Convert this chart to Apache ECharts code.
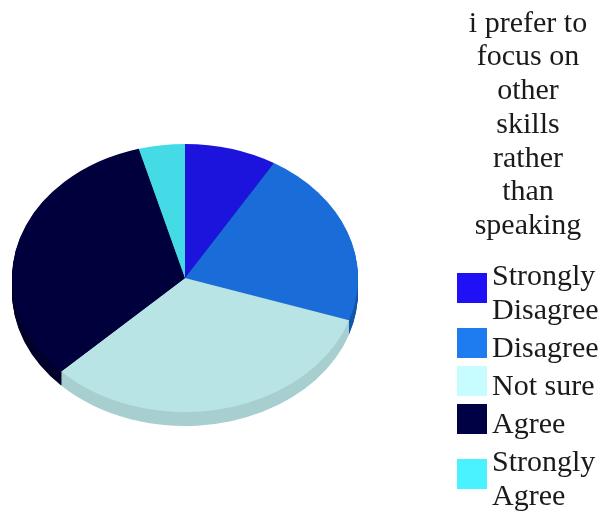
<!DOCTYPE html>
<html>
<head>
<meta charset="utf-8">
<style>html,body{margin:0;padding:0;background:#fff}#chart{width:603px;height:512px}</style>
<script src="https://cdn.jsdelivr.net/npm/echarts@6/dist/echarts.min.js"></script>
</head>
<body>
<div id="chart"></div>
<script>
// Survey responses, in percent of respondents
const titleLines = ['i prefer to', 'focus on', 'other', 'skills', 'rather', 'than', 'speaking'];
const categories = ['Strongly\nDisagree', 'Disagree', 'Not sure', 'Agree', 'Strongly\nAgree'];
const values = [8.6, 21.5, 32.6, 33.0, 4.3];
const legendColors = ['#2010f5', '#1f7cf0', '#c8fdff', '#000044', '#48f2ff'];
const faceColors = ['#1c14dc', '#1a6dd8', '#b8e4e5', '#00003c', '#45dbe6'];
const sideColors = ['#1410a8', '#1455a8', '#a8cfd0', '#00002c', '#35a8b0'];
// Front-facing rims paint last so each one ends on a clean vertical seam
const sideOrder = [1, 3, 4, 2, 0];

const total = values.reduce((a, b) => a + b, 0);
const starts = [];
values.reduce((acc, v, i) => { starts[i] = acc; return acc + v; }, 0);

// Tilted pie: each slice is a circular sector squashed vertically, over a stack of darker copies as its rim
const pie = { cx: 185, cy: 278, r: 173, squash: 0.775, depth: 14 };

function renderSlice(index) {
  return function (params, api) {
    const toAngle = p => -Math.PI / 2 + (p / total) * Math.PI * 2;
    const shape = {
      cx: 0, cy: 0, r: pie.r,
      startAngle: toAngle(starts[index]),
      endAngle: toAngle(starts[index] + api.value(0)),
      clockwise: true
    };
    const children = [];
    for (let d = pie.depth; d > 0; d--) {
      children.push({
        type: 'group', x: pie.cx, y: pie.cy + d, scaleY: pie.squash,
        children: [{ type: 'sector', shape, style: { fill: sideColors[index] }, z2: 1 + sideOrder[index] }]
      });
    }
    children.push({
      type: 'group', x: pie.cx, y: pie.cy, scaleY: pie.squash,
      children: [{ type: 'sector', shape, style: { fill: faceColors[index] }, z2: 10 }]
    });
    return { type: 'group', children };
  };
}

const textStyle = { fontFamily: '"Liberation Serif", "Times New Roman", serif', fontSize: 30, color: '#1a1a1a' };

const chart = echarts.init(document.getElementById('chart'), null, { renderer: 'canvas' });
chart.setOption({
  animation: false,
  backgroundColor: '#fff',
  title: {
    text: titleLines.join('\n'),
    left: 523, top: 2,
    textAlign: 'center',
    textStyle: { ...textStyle, fontWeight: 'normal', lineHeight: 33.7 }
  },
  legend: {
    orient: 'vertical',
    left: 457, top: 250,
    height: 300,
    padding: 0,
    itemWidth: 30, itemHeight: 30, itemGap: -4,
    icon: 'rect',
    selectedMode: false,
    // A thin blank line above each label sets the text a little below its swatch centre
    formatter: name => '{gap| }\n' + name.split('\n').map(line => `{label|${line}}`).join('\n'),
    textStyle: {
      ...textStyle,
      rich: {
        gap: { fontSize: 8, lineHeight: 12 },
        label: { ...textStyle, lineHeight: 34 }
      }
    },
    data: categories
  },
  series: categories.map((name, i) => ({
    type: 'custom',
    name,
    coordinateSystem: 'none',
    silent: true,
    itemStyle: { color: legendColors[i] },
    data: [[values[i]]],
    renderItem: renderSlice(i)
  }))
});
</script>
</body>
</html>
